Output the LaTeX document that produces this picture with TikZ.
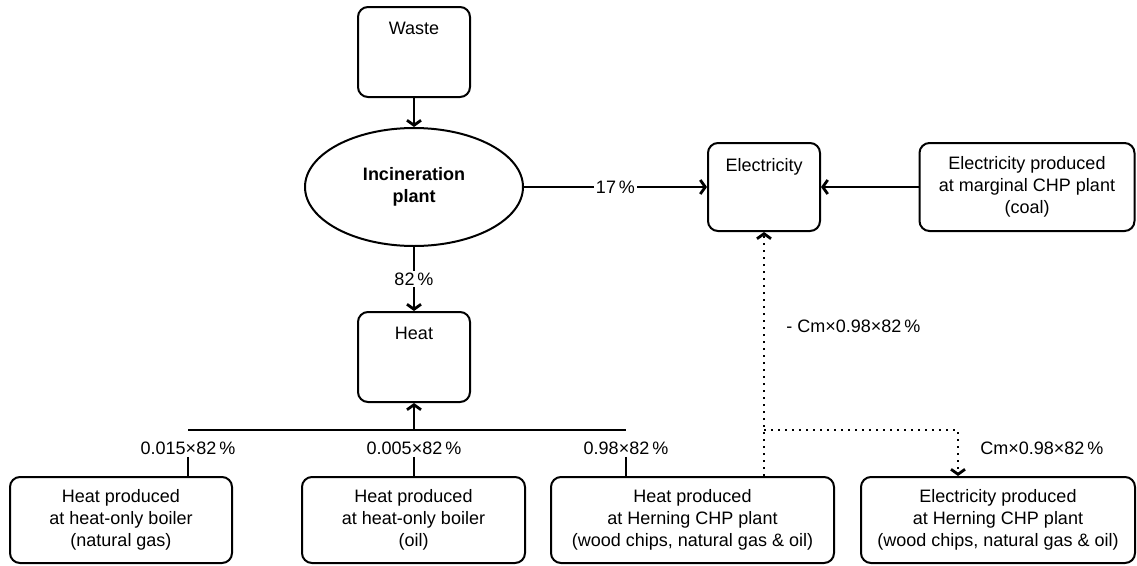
\documentclass[tikz,border=0pt]{standalone}
\usepackage{fontspec}
\setmainfont{Liberation Sans}
\usetikzlibrary{arrows.meta,positioning,shapes.geometric}

\begin{document}
\begin{tikzpicture}[
  x=1pt, y=-1pt,
  font=\fontsize{18}{22}\selectfont,
  line width=2pt,
  arr/.style={-{Straight Barb[length=5pt,width=14pt,line width=2.8pt]}},
  box/.style={draw,rounded corners=10pt,align=center,inner sep=0pt},
  topbox/.style={box,minimum width=112pt,minimum height=90pt,
    label={[anchor=north,inner sep=0pt,yshift=-15pt]north:#1}},
  src/.style={box,minimum height=86pt},
  pct/.style={inner sep=1.5pt,fill=white},
  dots/.style={line width=2.4pt,dash pattern=on 2.4pt off 4.6pt},
  every edge/.style={draw,arr}
]
  \useasboundingbox (0,0) rectangle (1137,565);
  % upper part
  \node[topbox=Waste] (waste) at (414,52) {};
  \node[draw,ellipse,minimum width=218pt,minimum height=118pt,align=center,
    font=\fontsize{18}{22}\selectfont\bfseries] (inc) at (414,187) {Incineration\\plant};
  \node[topbox=Heat] (heat) at (414,357) {};
  \node[topbox=Electricity,minimum height=88pt] (elec) at (764,187) {};
  \node[src,minimum width=215pt,minimum height=88pt] (marg) at (1027,187)
    {Electricity produced\\at marginal CHP plant\\(coal)};
  % lower boxes
  \node[src,minimum width=222pt] (hb1) at (121,520) {Heat produced\\at heat-only boiler\\(natural gas)};
  \node[src,minimum width=223pt] (hb2) at (413.5,520) {Heat produced\\at heat-only boiler\\(oil)};
  \node[src,minimum width=283pt] (hchp) at (692.5,520) {Heat produced\\at Herning CHP plant\\(wood chips, natural gas \& oil)};
  \node[src,minimum width=274pt] (echp) at (998,520) {Electricity produced\\at Herning CHP plant\\(wood chips, natural gas \& oil)};
  % shares
  \node[pct] (f1) at (188,448) {0.015×82\,\%};
  \node[pct] (f2) at (414,448) {0.005×82\,\%};
  \node[pct] (f3) at (626,448) {0.98×82\,\%};
  \node[anchor=west] (lneg) at (782,326) {- Cm×0.98×82\,\%};
  \node[anchor=west] (lpos) at (976,448) {Cm×0.98×82\,\%};
  \coordinate (bus) at (414,430);
  \coordinate (split) at (764,430);
  \coordinate (turn) at (958,430);
  % connectors
  \path (waste) edge (inc);
  \path (inc) edge node[pct] {17\,\%} (elec);
  \path (inc) edge node[pct] {82\,\%} (heat);
  \path (marg) edge (elec);
  \path (bus) edge (heat);
  \draw (f1 |- bus) -- (f3 |- bus);
  \draw (f1) -- (f1 |- hb1.north);
  \draw (f2) -- (f2 |- hb2.north);
  \draw (f3) -- (f3 |- hchp.north);
  \path (split |- hchp.north) edge[dots] (elec);
  \draw[dots,arr] (split) -- (turn) -- (turn |- echp.north);
\end{tikzpicture}
\end{document}
